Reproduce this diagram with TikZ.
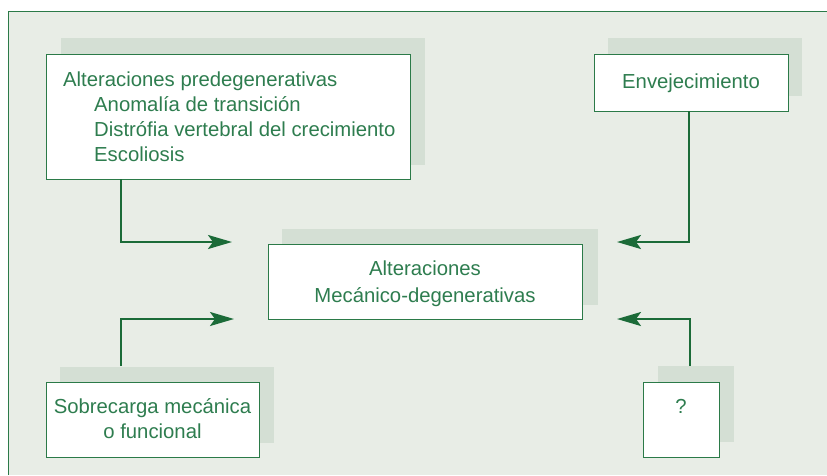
\documentclass[tikz,border=0pt]{standalone}
\usepackage{fontspec}
\setmainfont{Liberation Sans}
\usetikzlibrary{arrows.meta}
\definecolor{bg}{HTML}{E8EDE6}
\definecolor{shade}{HTML}{D4DFD4}
\definecolor{frame}{HTML}{2B7A48}
\definecolor{txt}{HTML}{2E7D4F}
\definecolor{arr}{HTML}{1B6B38}
\tikzset{
  shadowbox/.style={fill=shade, draw=none},
  mainbox/.style={fill=white, draw=frame, line width=1pt},
  lbl/.style={text=txt, font=\fontsize{20.3}{25}\selectfont, inner sep=0pt, anchor=base},
  conn/.style={draw=arr, line width=2.2pt, -{Stealth[length=24pt,width=14pt,inset=5pt]}},
}
\begin{document}
\begin{tikzpicture}[x=1pt,y=-1pt]
\useasboundingbox (0,0) rectangle (827,475);
\fill[bg] (8,11) rectangle (827,475);
\draw[frame, line width=1pt] (8,475) -- (8,11) -- (827,11);
% shadows
\fill[shadowbox] (61,38) rectangle (425,165);
\fill[shadowbox] (608,38) rectangle (802,96);
\fill[shadowbox] (282,229) rectangle (598,305);
\fill[shadowbox] (60,367) rectangle (274,443);
\fill[shadowbox] (658,366) rectangle (734,442);
% boxes
\draw[mainbox] (46,54) rectangle (410,179);
\node (pre) [inner sep=0pt, minimum width=364pt, minimum height=125pt] at (228,116.5) {};
\draw[mainbox] (594,54) rectangle (788,111);
\node (env) [inner sep=0pt, minimum width=194pt, minimum height=57pt] at (691,82.5) {};
\draw[mainbox] (268,244) rectangle (582,319);
\node (alt) [inner sep=0pt, minimum width=314pt, minimum height=75pt] at (425,281.5) {};
\draw[mainbox] (46,382) rectangle (259,457);
\node (sob) [inner sep=0pt, minimum width=213pt, minimum height=75pt] at (152.5,419.5) {};
\draw[mainbox] (643,382) rectangle (719,457);
\node (q) [inner sep=0pt, minimum width=76pt, minimum height=75pt] at (681,419.5) {};
% texts
\node[lbl, anchor=base west] at (63,86) {Alteraciones predegenerativas};
\node[lbl, anchor=base west] at (94,111) {Anomalía de transición};
\node[lbl, anchor=base west] at (94,136) {Distrófia vertebral del crecimiento};
\node[lbl, anchor=base west] at (94,161) {Escoliosis};
\node[lbl] at (691,88) {Envejecimiento};
\node[lbl] at (425,275) {Alteraciones};
\node[lbl] at (425,302) {Mecánico-degenerativas};
\node[lbl] at (152.5,413) {Sobrecarga mecánica};
\node[lbl] at (152.5,438) {o funcional};
\node[lbl] at (681,413) {?};
% connector endpoints
\coordinate (t1) at (232,242);
\coordinate (t2) at (617,242);
\coordinate (t3) at (234,319);
\coordinate (t4) at (617,319);
\draw[conn] (pre.south -| 121,0) -- (121,242) -- (t1);
\draw[conn] (env.south -| 689,0) -- (689,242) -- (t2);
\draw[conn] (121,366) -- (121,319) -- (t3);
\draw[conn] (690,366) -- (690,319) -- (t4);
\end{tikzpicture}
\end{document}
